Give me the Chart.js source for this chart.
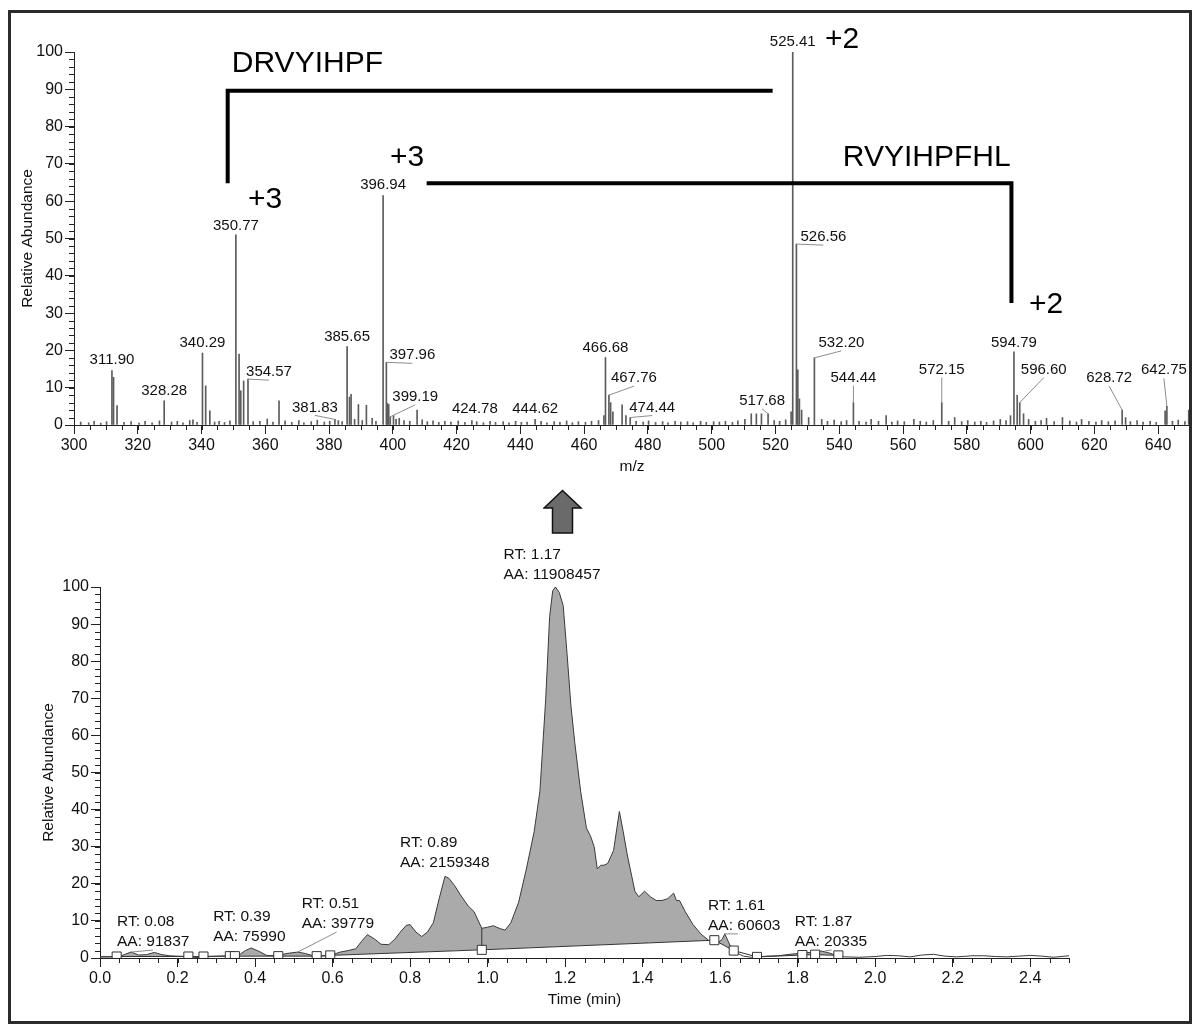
<!DOCTYPE html>
<html lang="en">
<head>
<meta charset="utf-8">
<title>Mass spectrum and extracted ion chromatogram</title>
<script src="https://cdn.jsdelivr.net/npm/chart.js@4.4.1/dist/chart.umd.min.js"></script>
<style>
  html, body { margin: 0; padding: 0; background: #fff; width: 1198px; height: 1029px; overflow: hidden; }
  #frame { position: absolute; left: 8px; top: 10px; width: 1178px; height: 1008px; border: 3px solid #2b2b2b; pointer-events: none; }
  #spectrum { position: absolute; left: 0; top: 0; }
  #chromatogram { position: absolute; left: 0; top: 540px; }
  #arrow { position: absolute; left: 543px; top: 489px; }
</style>
</head>
<body>
<canvas id="spectrum" width="1198" height="480"></canvas>
<canvas id="chromatogram" width="1198" height="489"></canvas>
<svg id="arrow" width="40" height="46" viewBox="0 0 40 46">
  <polygon points="19.5,1.5 38,19 29.5,19 29.5,44 9.5,44 9.5,19 1,19" fill="#6a6a6a" stroke="#111" stroke-width="1.5"/>
</svg>
<div id="frame"></div>
<script>
// ---------- mass spectrum (m/z, relative abundance %) ----------
const spectrumMz = [
  302.1, 304.6, 306.3, 308.4, 310.2, 311.90, 312.4, 313.5, 315.7, 317.9,
  320.4, 322.3, 324.5, 326.8, 328.28, 330.6, 332.4, 334.2, 336.3, 337.3,
  338.6, 340.29, 341.3, 342.6, 344.1, 345.5, 347.2, 348.9, 350.77, 351.77,
  352.3, 353.2, 354.57, 356.2, 358.3, 360.6, 362.4, 364.3, 366.2, 368.3,
  370.5, 372.1, 374.4, 376.3, 378.5, 380.2, 381.83, 382.9, 384.1, 385.65,
  386.4, 386.9, 388.0, 389.2, 390.4, 391.7, 393.5, 394.7, 396.94, 397.96,
  398.3, 398.7, 399.19, 400.2, 401.0, 402.0, 403.5, 405.3, 407.6, 409.2,
  410.8, 412.6, 414.4, 416.3, 418.2, 420.5, 422.6, 424.78, 426.3, 428.4,
  430.5, 432.2, 434.6, 436.4, 438.5, 440.3, 442.1, 444.62, 446.5, 448.3,
  450.6, 452.4, 454.5, 456.3, 458.2, 460.4, 462.3, 464.5, 466.2, 466.68,
  467.76, 468.3, 469.0, 471.9, 473.1, 474.44, 476.3, 478.5, 480.2, 482.4,
  484.6, 486.3, 488.5, 490.3, 492.4, 494.2, 496.5, 498.3, 500.6, 502.4,
  504.3, 506.5, 508.2, 510.4, 512.4, 514.0, 515.6, 517.68, 519.6, 521.3,
  523.2, 524.9, 525.41, 526.56, 527.0, 527.5, 528.2, 530.4, 532.20, 534.5,
  536.3, 538.4, 540.6, 542.3, 544.44, 546.2, 548.4, 550.0, 552.3, 554.7,
  556.5, 558.3, 560.4, 563.4, 565.4, 567.3, 569.5, 572.15, 574.3, 576.2,
  578.4, 580.3, 582.5, 584.4, 586.2, 588.4, 590.5, 592.3, 593.7, 594.79,
  595.8, 596.60, 597.8, 599.4, 601.5, 603.3, 605.0, 607.4, 610.0, 612.3,
  614.4, 616.0, 618.3, 620.5, 622.3, 624.4, 626.5, 628.72, 629.8, 631.3,
  633.4, 635.3, 637.5, 639.4, 642.2, 642.75, 644.5, 646.3, 648.4, 649.6
];
const spectrumAbundance = [
  0.8, 0.6, 1.0, 0.5, 0.9, 14.6, 12.8, 5.2, 0.7, 0.9,
  0.5, 1.0, 0.6, 1.1, 6.5, 0.8, 1.0, 0.6, 1.2, 1.4,
  0.7, 19.3, 10.5, 3.8, 0.8, 1.0, 0.7, 1.1, 51.0, 19.0,
  9.2, 11.8, 12.3, 0.9, 1.0, 1.6, 0.8, 6.5, 1.1, 0.7,
  1.2, 0.6, 0.9, 1.3, 0.8, 1.0, 1.5, 1.2, 0.9, 21.0,
  7.5, 8.2, 1.5, 5.5, 1.2, 5.3, 1.8, 1.0, 61.5, 16.8,
  5.8, 5.5, 2.2, 2.5, 1.5, 1.8, 1.2, 1.0, 4.0, 1.4,
  0.9, 1.1, 0.7, 1.0, 0.8, 1.1, 0.7, 1.2, 0.9, 0.6,
  1.0, 0.7, 0.9, 0.6, 1.0, 0.7, 0.8, 1.5, 1.0, 0.6,
  0.9, 0.7, 1.1, 0.6, 0.9, 0.7, 1.0, 1.2, 2.5, 18.1,
  8.0, 6.0, 3.5, 5.4, 2.5, 2.0, 1.0, 0.8, 1.1, 0.7,
  0.9, 0.6, 1.0, 0.8, 0.9, 0.6, 1.0, 0.7, 0.9, 0.8,
  1.0, 0.7, 1.1, 1.5, 3.0, 3.0, 3.0, 3.0, 1.2, 1.0,
  1.4, 3.5, 100, 48.5, 14.8, 7.0, 4.0, 2.0, 18.0, 1.5,
  1.0, 1.3, 0.9, 1.2, 6.0, 1.0, 0.8, 1.5, 1.0, 2.5,
  0.8, 1.1, 0.9, 1.5, 1.0, 0.8, 1.2, 6.0, 1.0, 2.0,
  0.9, 1.2, 0.8, 1.0, 0.7, 1.1, 1.5, 1.2, 2.5, 19.6,
  8.0, 6.0, 3.0, 1.5, 1.0, 1.2, 1.8, 0.9, 2.0, 1.1,
  0.8, 1.5, 1.0, 0.8, 1.2, 0.9, 1.1, 4.0, 2.0, 0.9,
  1.2, 0.8, 1.0, 0.7, 3.8, 5.0, 1.0, 1.3, 0.9, 4.0
];
const mzTicks = [300, 320, 340, 360, 380, 400, 420, 440, 460, 480, 500, 520, 540, 560, 580, 600, 620, 640];
const abundanceTicks = [0, 10, 20, 30, 40, 50, 60, 70, 80, 90, 100];

// peaks that carry an m/z label
const labelledMz = [
  311.90, 328.28, 340.29, 350.77, 354.57, 381.83, 385.65, 396.94, 397.96, 399.19,
  424.78, 444.62, 466.68, 467.76, 474.44, 517.68, 525.41, 526.56, 532.20, 544.44,
  572.15, 594.79, 596.60, 628.72, 642.75
];

// fragment annotation text
const sequenceTexts = ['DRVYIHPF', 'RVYIHPFHL', '+3', '+3', '+2', '+2'];

// ---------- extracted ion chromatogram (time min, relative abundance %) ----------
const chromTime = [
  0.00, 0.03, 0.05, 0.065, 0.08, 0.10, 0.12, 0.14, 0.16, 0.18,
  0.20, 0.23, 0.25, 0.27, 0.30, 0.34, 0.36, 0.375, 0.39, 0.41,
  0.43, 0.46, 0.48, 0.51, 0.53, 0.55, 0.57, 0.60, 0.62, 0.64,
  0.66, 0.675, 0.69, 0.71, 0.725, 0.745, 0.76, 0.775, 0.79, 0.80,
  0.815, 0.83, 0.845, 0.86, 0.875, 0.89, 0.90, 0.915, 0.93, 0.95,
  0.965, 0.985, 1.00, 1.015, 1.03, 1.045, 1.06, 1.08, 1.10, 1.12,
  1.135, 1.15, 1.16, 1.168, 1.175, 1.185, 1.195, 1.205, 1.215, 1.225,
  1.24, 1.255, 1.265, 1.275, 1.283, 1.292, 1.30, 1.31, 1.325, 1.34,
  1.35, 1.36, 1.372, 1.38, 1.39, 1.405, 1.42, 1.435, 1.45, 1.465,
  1.48, 1.487, 1.495, 1.51, 1.53, 1.55, 1.57, 1.59, 1.605, 1.612,
  1.625, 1.64, 1.66, 1.68, 1.70, 1.72, 1.75, 1.78, 1.80, 1.82,
  1.84, 1.86, 1.88, 1.90, 1.92, 1.96, 2.00, 2.03, 2.06, 2.09,
  2.12, 2.15, 2.18, 2.21, 2.25, 2.28, 2.31, 2.34, 2.37, 2.40,
  2.43, 2.46, 2.50
];
const chromAbundance = [
  0.3, 0.3, 0.4, 1.0, 1.6, 0.8, 0.9, 1.5, 0.9, 0.6,
  0.5, 0.4, 0.1, 0.4, 0.5, 0.6, 0.9, 2.0, 2.7, 1.8,
  0.7, 0.6, 1.2, 1.6, 1.2, 0.6, 0.5, 0.9, 1.6, 2.0,
  2.5, 4.5, 6.3, 5.0, 3.7, 3.6, 5.0, 7.0, 8.8, 9.0,
  7.0, 5.8, 7.0, 9.5, 16, 22, 21.5, 19.5, 17, 14,
  12.5, 8.0, 8.3, 8.7, 8.0, 7.5, 9.5, 15, 24, 34,
  45, 70, 92, 99, 100, 98.5, 95, 82, 68, 58,
  45, 35, 33, 30, 24, 25, 25, 25.5, 29, 39.5,
  34, 28, 22, 18, 16.5, 18, 16.5, 15.5, 15.5, 16.0,
  17.5, 15.5, 15.5, 12.5, 9, 6.5, 4.8, 3.8, 5.0, 6.5,
  3.5, 1.5, 0.5, 0.2, 0.3, 0.5, 0.6, 1.0, 1.2, 1.6,
  1.3, 1.9, 1.4, 0.7, 0.3, 0.2, 0.4, 0.7, 0.6, 0.3,
  0.8, 1.0, 0.5, 0.3, 0.6, 0.6, 0.4, 0.3, 0.5, 0.7,
  0.5, 0.2, 0.6
];
// integration baseline and its boundary markers
const baselineTime = [0.00, 0.043, 0.228, 0.267, 0.335, 0.348, 0.46, 0.559, 0.594, 0.985, 1.585, 1.635, 1.695, 1.812, 1.845, 1.905];
const baselineAbundance = [0.3, 0.4, 0.4, 0.4, 0.5, 0.5, 0.5, 0.5, 0.7, 2.2, 4.8, 2.0, 0.3, 0.8, 0.9, 0.7];
const markerTime = [0.043, 0.228, 0.267, 0.335, 0.348, 0.46, 0.559, 0.594, 0.985, 1.585, 1.635, 1.695, 1.812, 1.845, 1.905];
const markerAbundance = [0.4, 0.4, 0.4, 0.5, 0.5, 0.5, 0.5, 0.7, 2.2, 4.8, 2.0, 0.3, 0.8, 0.9, 0.7];
// peak split between the 0.89 and 1.17 peaks
const splitTime = [0.985, 0.985];
const splitAbundance = [2.2, 8.0];
// detected peaks: retention time and area
const peakRT = [0.08, 0.39, 0.51, 0.89, 1.17, 1.61, 1.87];
const peakArea = [91837, 75990, 39779, 2159348, 11908457, 60603, 20335];
const timeTicks = [0.0, 0.2, 0.4, 0.6, 0.8, 1.0, 1.2, 1.4, 1.6, 1.8, 2.0, 2.2, 2.4];

// ---------- layout and style ----------
const FONT = '"Liberation Sans", Arial, Helvetica, sans-serif';
Chart.defaults.font.family = FONT;
Chart.defaults.color = '#111';

// label offsets (px) from each labelled peak top: [dx, dy]
const mzLabelOffsets = [
  [0, -11], [0, -10], [0, -10], [0, -9], [21, -7], [-20, -12], [0, -10], [0, -11], [26, -7], [25, -20],
  [3, -12], [0, -11], [0, -10], [25, -17], [22, -10], [-6, -13], [0, -10], [27, -7], [27, -15], [0, -25],
  [0, -33], [0, -9], [24, -33], [-13, -32], [-3, -36]
];
// fragment brackets in (m/z, abundance) units
const bracketPaths = [
  [[348.2, 64.8], [348.2, 89.6], [519.1, 89.6]],
  [[410.6, 64.8], [594.0, 64.8], [594.0, 32.7]]
];
const sequenceTextPos = [[349.5, 96.8], [541.1, 71.6], [354.6, 60.3], [399.1, 71.6], [535.5, 103.2], [599.5, 32.2]];
// RT label offsets (px) from the apex: [dx, dy, leader end x offset]
const rtLabelOffsets = [
  [-14, -30, 36], [-38, -31, null], [4, -48, 35], [-45, -34, null],
  [-50, -36, null], [-16, -28, 30], [-30, -29, 37]
];

const minorTickPlugin = {
  id: 'minorTicks',
  afterDraw(chart, args, opts) {
    const ctx = chart.ctx;
    ctx.save();
    ctx.strokeStyle = '#222';
    ctx.lineWidth = 1;
    ctx.beginPath();
    for (const a of opts.axes) {
      const s = chart.scales[a.id];
      const n = Math.round((s.max - s.min) / a.step);
      for (let k = 0; k <= n; k++) {
        const p = Math.round(s.getPixelForValue(s.min + k * a.step)) + 0.5;
        if (s.isHorizontal()) { ctx.moveTo(p, s.top); ctx.lineTo(p, s.top + a.len); }
        else { ctx.moveTo(s.right - a.len, p); ctx.lineTo(s.right, p); }
      }
    }
    ctx.stroke();
    ctx.restore();
  }
};

const peakLabelPlugin = {
  id: 'peakLabels',
  afterDatasetsDraw(chart) {
    const { ctx, scales: { x, y } } = chart;
    ctx.save();
    ctx.font = '15px ' + FONT;
    ctx.textAlign = 'center';
    ctx.textBaseline = 'middle';
    labelledMz.forEach((mz, k) => {
      const i = spectrumMz.indexOf(mz);
      const px = x.getPixelForValue(mz);
      const py = y.getPixelForValue(spectrumAbundance[i]);
      const [dx, dy] = mzLabelOffsets[k];
      const lx = px + dx, ly = py + dy;
      if (Math.abs(dx) > 4 || dy < -14) {
        ctx.strokeStyle = '#8c8c8c';
        ctx.lineWidth = 1;
        ctx.beginPath();
        ctx.moveTo(px, py);
        ctx.lineTo(lx, ly + 8);
        ctx.stroke();
      }
      ctx.fillStyle = '#111';
      ctx.fillText(mz.toFixed(2), lx, ly);
    });
    ctx.restore();
  }
};

const sequencePlugin = {
  id: 'sequenceMarks',
  afterDatasetsDraw(chart) {
    const { ctx, scales: { x, y } } = chart;
    ctx.save();
    ctx.strokeStyle = '#000';
    ctx.lineWidth = 4;
    ctx.lineJoin = 'miter';
    for (const path of bracketPaths) {
      ctx.beginPath();
      path.forEach(([m, a], k) => {
        const X = x.getPixelForValue(m), Y = y.getPixelForValue(a);
        if (k) ctx.lineTo(X, Y); else ctx.moveTo(X, Y);
      });
      ctx.stroke();
    }
    ctx.fillStyle = '#000';
    ctx.font = '30px ' + FONT;
    ctx.textAlign = 'left';
    ctx.textBaseline = 'middle';
    sequenceTexts.forEach((t, k) => {
      const [m, a] = sequenceTextPos[k];
      ctx.fillText(t, x.getPixelForValue(m), y.getPixelForValue(a));
    });
    ctx.restore();
  }
};

const rtLabelPlugin = {
  id: 'rtLabels',
  afterDatasetsDraw(chart) {
    const { ctx, scales: { x, y } } = chart;
    ctx.save();
    ctx.font = '15.5px ' + FONT;
    ctx.textAlign = 'left';
    ctx.textBaseline = 'middle';
    peakRT.forEach((rt, k) => {
      let best = 0;
      chromTime.forEach((t, i) => { if (Math.abs(t - rt) < Math.abs(chromTime[best] - rt) - 1e-9) best = i; });
      const px = x.getPixelForValue(rt);
      const py = y.getPixelForValue(chromAbundance[best]);
      const [dx, dy, lead] = rtLabelOffsets[k];
      const lx = px + dx, ly = py + dy;
      if (lead !== null) {
        ctx.strokeStyle = '#8c8c8c';
        ctx.lineWidth = 1;
        ctx.beginPath();
        ctx.moveTo(px, py);
        ctx.lineTo(lx + lead, ly + 28);
        ctx.stroke();
      }
      ctx.fillStyle = '#111';
      ctx.fillText('RT: ' + rt.toFixed(2), lx, ly);
      ctx.fillText('AA: ' + peakArea[k], lx, ly + 20);
    });
    ctx.restore();
  }
};

const axisGrid = { display: true, drawOnChartArea: false, drawTicks: true, tickLength: 9, tickColor: '#222', offset: false };
const axisBorder = { display: true, color: '#222', width: 1 };

// ---------- spectrum ----------
new Chart(document.getElementById('spectrum'), {
  type: 'bar',
  data: {
    datasets: [{
      data: spectrumMz.map((m, i) => ({ x: m, y: spectrumAbundance[i] })),
      backgroundColor: '#5c5c5c',
      barThickness: 1,
      borderWidth: 0
    }]
  },
  options: {
    responsive: false,
    animation: false,
    events: [],
    layout: { padding: { left: 0, top: 52, right: 8, bottom: 0 } },
    plugins: {
      legend: { display: false },
      tooltip: { enabled: false },
      minorTicks: { axes: [{ id: 'x', step: 5, len: 5 }, { id: 'y', step: 2, len: 5 }] }
    },
    scales: {
      x: {
        type: 'linear', min: 300, max: 650, offset: false,
        afterBuildTicks: s => { s.ticks = mzTicks.map(v => ({ value: v })); },
        afterFit: s => { s.height = 55; },
        grid: axisGrid, border: axisBorder,
        ticks: { font: { size: 16 }, color: '#111', padding: 2, maxRotation: 0, autoSkip: false },
        title: { display: true, text: 'm/z', font: { size: 15.5 }, color: '#111', padding: { top: 0, bottom: 4 } }
      },
      y: {
        type: 'linear', min: 0, max: 100,
        afterBuildTicks: s => { s.ticks = abundanceTicks.map(v => ({ value: v })); },
        afterFit: s => { s.width = 74; },
        grid: axisGrid, border: axisBorder,
        ticks: { font: { size: 16 }, color: '#111', padding: 2 },
        title: { display: true, text: 'Relative Abundance', font: { size: 15.5 }, color: '#111', padding: { top: 18.7, bottom: 0 } }
      }
    }
  },
  plugins: [minorTickPlugin, peakLabelPlugin, sequencePlugin]
});

// ---------- chromatogram ----------
const xy = (xs, ys) => xs.map((v, i) => ({ x: v, y: ys[i] }));
new Chart(document.getElementById('chromatogram'), {
  type: 'line',
  data: {
    datasets: [
      {
        data: xy(markerTime, markerAbundance),
        showLine: false,
        pointStyle: 'rect',
        pointRadius: 6.4,
        pointBackgroundColor: '#fff',
        pointBorderColor: '#333',
        pointBorderWidth: 1
      },
      {
        data: xy(chromTime, chromAbundance),
        borderColor: '#3a3a3a',
        borderWidth: 1,
        pointRadius: 0,
        tension: 0,
        clip: 4,
        fill: { target: 2, above: '#aaaaaa', below: 'rgba(0,0,0,0)' }
      },
      {
        data: xy(baselineTime, baselineAbundance),
        borderColor: '#333',
        borderWidth: 1,
        pointRadius: 0,
        fill: false
      },
      {
        data: xy(splitTime, splitAbundance),
        borderColor: '#333',
        borderWidth: 1,
        pointRadius: 0,
        fill: false
      }
    ]
  },
  options: {
    responsive: false,
    animation: false,
    events: [],
    layout: { padding: { left: 0, top: 47, right: 129, bottom: 9 } },
    plugins: {
      legend: { display: false },
      tooltip: { enabled: false },
      filler: { drawTime: 'beforeDatasetsDraw', propagate: false },
      minorTicks: { axes: [{ id: 'x', step: 0.05, len: 5 }, { id: 'y', step: 2, len: 5 }] }
    },
    scales: {
      x: {
        type: 'linear', min: 0, max: 2.5, offset: false,
        afterBuildTicks: s => { s.ticks = timeTicks.map(v => ({ value: v })); },
        afterFit: s => { s.height = 62; },
        grid: axisGrid, border: axisBorder,
        ticks: { font: { size: 16 }, color: '#111', padding: 2, maxRotation: 0, autoSkip: false, callback: v => Number(v).toFixed(1) },
        title: { display: true, text: 'Time (min)', font: { size: 15.5 }, color: '#111', padding: { top: 0, bottom: 10.5 } }
      },
      y: {
        type: 'linear', min: 0, max: 100,
        afterBuildTicks: s => { s.ticks = abundanceTicks.map(v => ({ value: v })); },
        afterFit: s => { s.width = 100; },
        grid: axisGrid, border: axisBorder,
        ticks: { font: { size: 16 }, color: '#111', padding: 2 },
        title: { display: true, text: 'Relative Abundance', font: { size: 15.5 }, color: '#111', padding: { top: 39.7, bottom: 0 } }
      }
    }
  },
  plugins: [minorTickPlugin, rtLabelPlugin]
});
</script>
</body>
</html>
